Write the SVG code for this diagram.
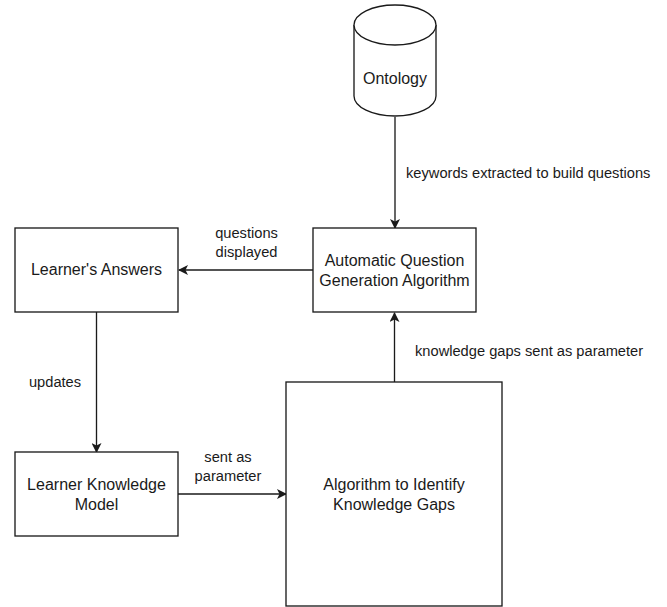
<svg xmlns="http://www.w3.org/2000/svg" width="667" height="607" viewBox="0 0 667 607">
  <style>
    .box { fill: #ffffff; stroke: #1a1a1a; stroke-width: 1.33; }
    .node { font-family: "Liberation Sans", Arial, sans-serif; font-size: 16px; fill: #1a1a1a; text-anchor: middle; }
    .lbl { font-family: "Liberation Sans", Arial, sans-serif; font-size: 14.67px; fill: #1a1a1a; }
    .edge { fill: none; stroke: #1a1a1a; stroke-width: 1.33; }
  </style>
  <defs>
    <marker id="arrow" viewBox="0 0 10 10" refX="9" refY="5" markerWidth="10" markerHeight="10" markerUnits="userSpaceOnUse" orient="auto">
      <path d="M0,0 L10,5 L0,10 L2.5,5 Z" fill="#1a1a1a"/>
    </marker>
  </defs>
  <rect width="667" height="607" fill="#ffffff"/>

  <g id="connectors">
    <path class="edge" d="M395,117 L395,228" marker-end="url(#arrow)"/>
    <path class="edge" d="M313,270 L179,270" marker-end="url(#arrow)"/>
    <path class="edge" d="M96.5,312 L96.5,452" marker-end="url(#arrow)"/>
    <path class="edge" d="M178,494 L286,494" marker-end="url(#arrow)"/>
    <path class="edge" d="M394.5,382 L394.5,313" marker-end="url(#arrow)"/>
    <text class="lbl" x="406" y="178">keywords extracted to build questions</text>
    <text class="lbl" x="246.5" y="238" text-anchor="middle">questions</text>
    <text class="lbl" x="246.5" y="257" text-anchor="middle">displayed</text>
    <text class="lbl" x="55" y="387" text-anchor="middle">updates</text>
    <text class="lbl" x="228" y="462" text-anchor="middle">sent as</text>
    <text class="lbl" x="228" y="481" text-anchor="middle">parameter</text>
    <text class="lbl" x="415" y="356">knowledge gaps sent as parameter</text>
  </g>

  <g id="ontology">
    <path class="box" d="M354,25 L354,96 A41,20 0 0 0 436,96 L436,25 A41,20 0 0 0 354,25 Z"/>
    <path class="box" fill="none" d="M354,25 A41,20 0 0 0 436,25"/>
    <text class="node" x="395" y="84">Ontology</text>
  </g>

  <g id="question-generation">
    <rect class="box" x="313" y="228" width="163" height="84"/>
    <text class="node" x="394.5" y="266">Automatic Question</text>
    <text class="node" x="394.5" y="286">Generation Algorithm</text>
  </g>

  <g id="learner-answers">
    <rect class="box" x="15" y="228" width="163" height="84"/>
    <text class="node" x="96.5" y="275">Learner's Answers</text>
  </g>

  <g id="learner-model">
    <rect class="box" x="15" y="452" width="163" height="84"/>
    <text class="node" x="96.5" y="490">Learner Knowledge</text>
    <text class="node" x="96.5" y="510">Model</text>
  </g>

  <g id="gap-identification">
    <rect class="box" x="286" y="382" width="216" height="224"/>
    <text class="node" x="394" y="490">Algorithm to Identify</text>
    <text class="node" x="394" y="510">Knowledge Gaps</text>
  </g>
</svg>
